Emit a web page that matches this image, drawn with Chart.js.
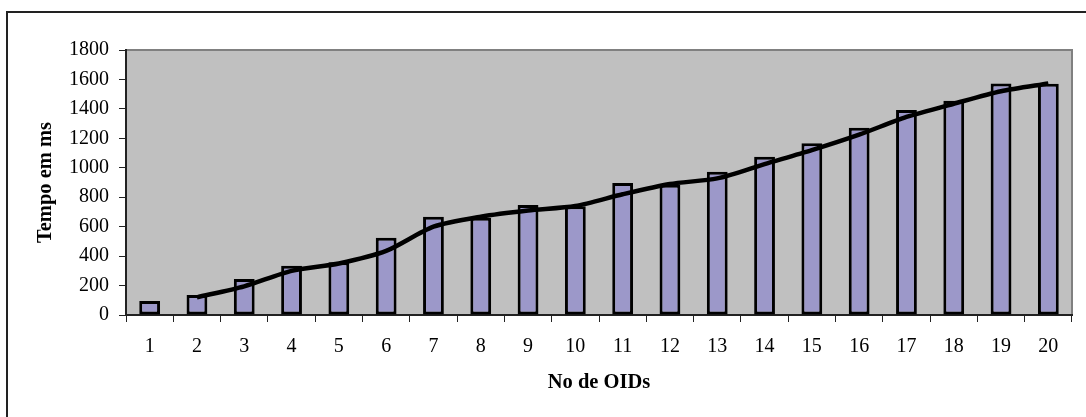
<!DOCTYPE html>
<html>
<head>
<meta charset="utf-8">
<script src="https://cdn.jsdelivr.net/npm/chart.js@4"></script>
<style>
  body { margin: 0; background: #fff; overflow: hidden; }
  #frame { position: absolute; left: 6px; top: 11px; width: 2000px; height: 2000px;
           border-left: 2px solid #222; border-top: 2px solid #222; }
  canvas { position: absolute; left: 0; top: 0; }
</style>
</head>
<body>
<div id="frame"></div>
<canvas id="oidChart" width="1086" height="417"></canvas>
<script>
// dados
const ids = ['1', '2', '3', '4', '5', '6', '7', '8', '9', '10',
             '11', '12', '13', '14', '15', '16', '17', '18', '19', '20'];
const tempos = [95, 136, 244, 335, 358, 525, 668, 660, 747, 738,
                896, 884, 973, 1075, 1166, 1272, 1392, 1455, 1573, 1570];
const media = [null, 120, 195, 300, 350, 435, 600, 668, 710, 740,
               820, 890, 928, 1025, 1120, 1225, 1345, 1435, 1520, 1573];
const yTicks = [0, 200, 400, 600, 800, 1000, 1200, 1400, 1600, 1800];

const serif = 'Liberation Serif, Times New Roman, serif';

// fundo cinza da area do grafico
const plotBg = {
  id: 'plotBg',
  beforeDraw(chart) {
    const { ctx, chartArea: a } = chart;
    ctx.save();
    ctx.fillStyle = '#c0c0c0';
    ctx.fillRect(a.left, a.top, a.width, a.height);
    ctx.strokeStyle = '#808080';
    ctx.lineWidth = 2;
    ctx.beginPath();
    ctx.moveTo(a.left, a.top);
    ctx.lineTo(a.right, a.top);
    ctx.lineTo(a.right, a.bottom);
    ctx.stroke();
    ctx.restore();
  }
};

const ctx = document.getElementById('oidChart').getContext('2d');
new Chart(ctx, {
  data: {
    labels: ids,
    datasets: [
      {
        type: 'line',
        data: media,
        borderColor: '#000',
        borderWidth: 4.5,
        pointRadius: 0,
        tension: 0.25,
        order: 0
      },
      {
        type: 'bar',
        data: tempos,
        backgroundColor: '#9c98c9',
        borderColor: '#000',
        borderWidth: 3,
        borderSkipped: false,
        barPercentage: 0.44,
        categoryPercentage: 1,
        order: 1
      }
    ]
  },
  options: {
    responsive: false,
    animation: false,
    layout: { padding: { left: 0, top: 50, right: 14, bottom: 0 } },
    plugins: { legend: { display: false }, tooltip: { enabled: false } },
    scales: {
      x: {
        afterFit(scale) { scale.height = 102; },
        grid: { drawOnChartArea: false, tickLength: 7, color: '#222', offset: true },
        border: { color: '#222', width: 2 },
        ticks: { color: '#000', padding: 13, font: { family: serif, size: 20 } },
        title: {
          display: true, text: 'No de OIDs', color: '#000',
          font: { family: serif, size: 20.5, weight: 'bold' },
          padding: { bottom: 22 }
        }
      },
      y: {
        min: 0, max: 1800,
        afterFit(scale) { scale.width = 126; },
        afterBuildTicks(scale) { scale.ticks = yTicks.map(v => ({ value: v })); },
        grid: { drawOnChartArea: false, tickLength: 7, color: '#222' },
        border: { color: '#222', width: 2 },
        ticks: {
          color: '#000', padding: 10, font: { family: serif, size: 20 },
          callback: v => String(v)
        },
        title: {
          display: true, text: 'Tempo em ms', color: '#000',
          font: { family: serif, size: 20.5, weight: 'bold' },
          padding: { top: 33 }
        }
      }
    }
  },
  plugins: [plotBg]
});
</script>
</body>
</html>
